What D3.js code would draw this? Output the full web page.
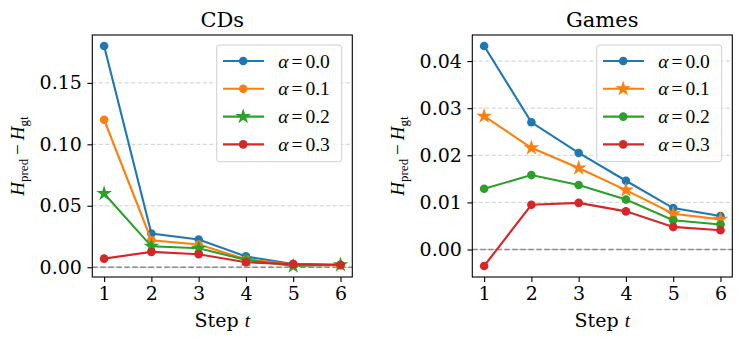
<!DOCTYPE html>
<html><head><meta charset="utf-8">
<script src="https://cdn.jsdelivr.net/npm/d3@7"></script>
<style>
html,body{margin:0;padding:0;background:#fff;}
svg{display:block;}
</style></head>
<body>
<svg id="chart" width="742" height="342"></svg>
<script>
// ---- data ----
const steps = [1, 2, 3, 4, 5, 6];
const alphaLabels = ["0.0", "0.1", "0.2", "0.3"];
const seriesColors = ["#1f77b4", "#ff7f0e", "#2ca02c", "#d62728"];

const cdsA00 = [0.180, 0.0275, 0.0225, 0.0088, 0.0025, 0.0018];
const cdsA01 = [0.120, 0.0220, 0.0185, 0.0065, 0.0022, 0.0015];
const cdsA02 = [0.060, 0.0170, 0.0155, 0.0060, 0.0010, 0.0020];
const cdsA03 = [0.007, 0.0125, 0.0105, 0.0040, 0.0025, 0.0020];

const gamesA00 = [0.0432, 0.0270, 0.0205, 0.0146, 0.0088, 0.0071];
const gamesA01 = [0.0283, 0.0216, 0.0173, 0.0126, 0.0076, 0.0064];
const gamesA02 = [0.0129, 0.0158, 0.0137, 0.0106, 0.0062, 0.0053];
const gamesA03 = [-0.0035, 0.0095, 0.0099, 0.0081, 0.0048, 0.0041];

const cdsTicks = [0.00, 0.05, 0.10, 0.15];
const gamesTicks = [0.00, 0.01, 0.02, 0.03, 0.04];

const panels = [
  { title: "CDs", series: [cdsA00, cdsA01, cdsA02, cdsA03], star: 2, yTicks: cdsTicks, left: 92.3 },
  { title: "Games", series: [gamesA00, gamesA01, gamesA02, gamesA03], star: 1, yTicks: gamesTicks, left: 472.3 }
];

// ---- drawing ----
(function () {
const svg = d3.select("#chart");
const W = 260, plotTop = 35, plotBottom = 277;
const serif = "'DejaVu Serif', serif";
const mathF = "'Liberation Serif', 'Times New Roman', serif";
const FS = 19;

panels.forEach(p => {
  const left = p.left, right = left + W;
  const x = d3.scaleLinear().domain([0.75, 6.25]).range([left, right]);
  const all = p.series.flat();
  const mn = d3.min(all), mx = d3.max(all), pad = (mx - mn) * 0.05;
  const y = d3.scaleLinear().domain([mn - pad, mx + pad]).range([plotBottom, plotTop]);
  const g = svg.append("g");

  // grid
  g.selectAll("line.grid").data(p.yTicks).join("line")
    .attr("x1", left).attr("x2", right)
    .attr("y1", d => y(d)).attr("y2", d => y(d))
    .attr("stroke", "#c8c8c8").attr("stroke-width", 0.9)
    .attr("stroke-dasharray", "4,2.5");
  // zero line
  g.append("line").attr("x1", left).attr("x2", right)
    .attr("y1", y(0)).attr("y2", y(0))
    .attr("stroke", "#8a8a8a").attr("stroke-width", 1.3)
    .attr("stroke-dasharray", "5.5,2.5");

  // series
  const line = d3.line().x((d, i) => x(steps[i])).y(d => y(d));
  p.series.forEach((vals, si) => {
    const c = seriesColors[si];
    g.append("path").datum(vals).attr("d", line)
      .attr("fill", "none").attr("stroke", c).attr("stroke-width", 2.1);
    if (si === p.star) {
      g.selectAll(null).data(vals).join("path")
        .attr("d", d3.symbol(d3.symbolStar, 76))
        .attr("transform", (d, i) => `translate(${x(steps[i])},${y(d)})`)
        .attr("fill", c);
    } else {
      g.selectAll(null).data(vals).join("circle")
        .attr("cx", (d, i) => x(steps[i])).attr("cy", d => y(d))
        .attr("r", 4.3).attr("fill", c);
    }
  });

  // axes
  const xAxis = d3.axisBottom(x).tickValues(steps).tickFormat(d3.format("d")).tickSize(4.9).tickPadding(4.5);
  const yAxis = d3.axisLeft(y).tickValues(p.yTicks).tickFormat(d3.format(".2f")).tickSize(4.9).tickPadding(5.5);
  const gx = g.append("g").attr("transform", `translate(0,${plotBottom})`).call(xAxis);
  const gy = g.append("g").attr("transform", `translate(${left},0)`).call(yAxis);
  [gx, gy].forEach(a => {
    a.select(".domain").remove();
    a.selectAll(".tick line").attr("stroke", "#000").attr("stroke-width", 1.1);
    a.selectAll(".tick text").attr("font-family", serif).attr("font-size", FS).attr("fill", "#000");
  });

  // frame
  g.append("rect").attr("x", left).attr("y", plotTop).attr("width", W).attr("height", plotBottom - plotTop)
    .attr("fill", "none").attr("stroke", "#000").attr("stroke-width", 1.1);

  // title
  g.append("text").attr("x", (left + right) / 2).attr("y", 27).attr("text-anchor", "middle")
    .attr("font-family", serif).attr("font-size", 21).text(p.title);

  // x label
  const xl = g.append("text").attr("x", (left + right) / 2).attr("y", 327).attr("text-anchor", "middle")
    .attr("font-family", serif).attr("font-size", FS);
  xl.append("tspan").text("Step ");
  xl.append("tspan").attr("font-family", mathF).attr("font-style", "italic").text("t");

  // y label
  const yl = g.append("text").attr("transform", `translate(${left - 68},${(plotTop + plotBottom) / 2}) rotate(-90)`)
    .attr("text-anchor", "middle").attr("font-family", mathF).attr("font-size", FS);
  yl.append("tspan").attr("font-style", "italic").text("H");
  yl.append("tspan").attr("font-size", 13).attr("dy", 3.5).text("pred");
  yl.append("tspan").attr("dy", -3.5).attr("dx", 4).text("−");
  yl.append("tspan").attr("dx", 4).attr("font-style", "italic").text("H");
  yl.append("tspan").attr("font-size", 13).attr("dy", 3.5).text("gt");

  // legend
  const lx = right - 135.6, ly = 45;
  const lg = g.append("g");
  lg.append("rect").attr("x", lx).attr("y", ly).attr("width", 125).attr("height", 116.7)
    .attr("rx", 3).attr("fill", "#fff").attr("fill-opacity", 0.8)
    .attr("stroke", "#d0d0d0").attr("stroke-width", 1);
  alphaLabels.forEach((lab, si) => {
    const c = seriesColors[si];
    const yy = ly + 16 + si * 27.8;
    lg.append("line").attr("x1", lx + 6.3).attr("x2", lx + 47.3).attr("y1", yy).attr("y2", yy)
      .attr("stroke", c).attr("stroke-width", 2.1);
    if (si === p.star) {
      lg.append("path").attr("d", d3.symbol(d3.symbolStar, 76))
        .attr("transform", `translate(${lx + 26.5},${yy})`).attr("fill", c);
    } else {
      lg.append("circle").attr("cx", lx + 26.5).attr("cy", yy).attr("r", 4.3).attr("fill", c);
    }
    const t = lg.append("text").attr("x", lx + 61.5).attr("y", yy + 6.5)
      .attr("font-family", mathF).attr("font-size", FS + 0.5);
    t.append("tspan").attr("font-style", "italic").text("α");
    t.append("tspan").attr("dx", 3).text("=");
    t.append("tspan").attr("dx", 3).text(lab);
  });
});
})();
</script>
</body></html>
